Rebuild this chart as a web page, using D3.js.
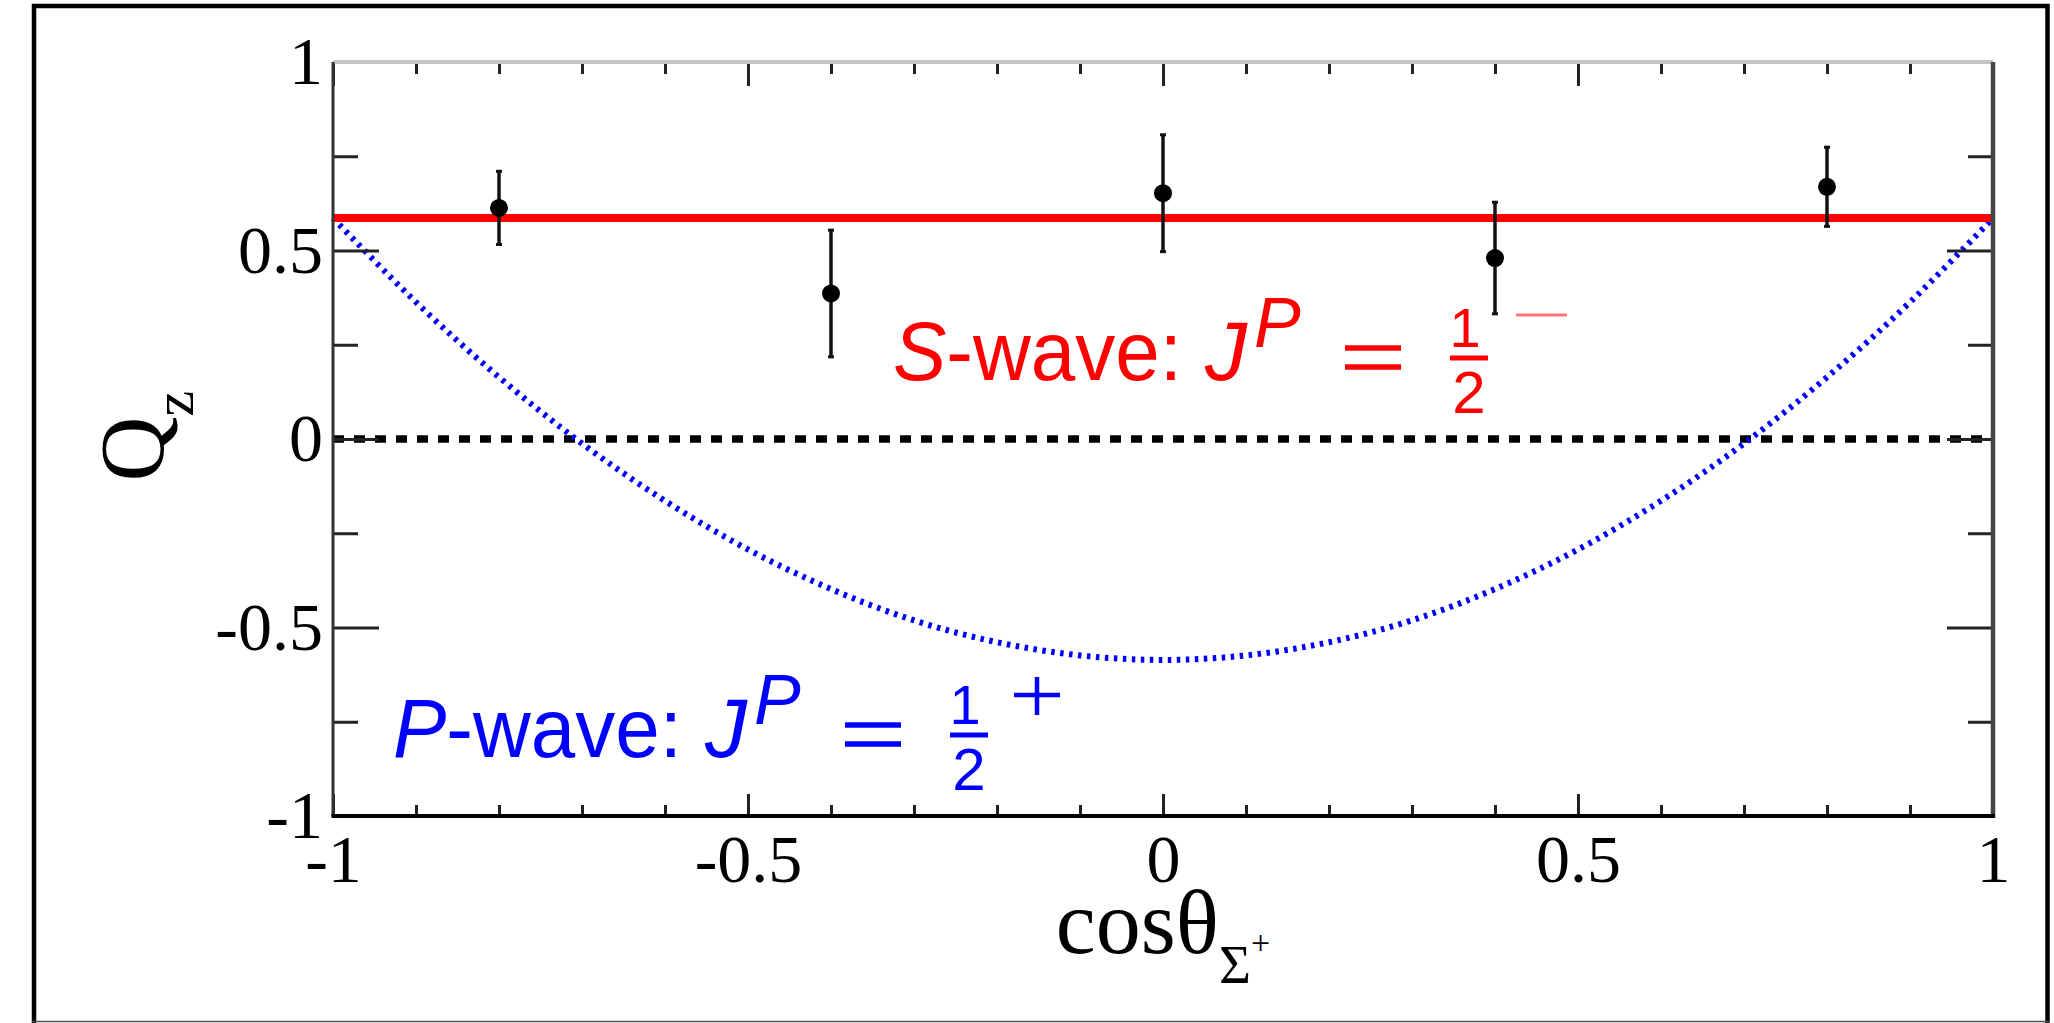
<!DOCTYPE html>
<html>
<head>
<meta charset="utf-8">
<script src="https://cdn.jsdelivr.net/npm/d3@7"></script>
<style>
  html, body { margin: 0; padding: 0; background: #fff; }
  svg { display: block; }
</style>
</head>
<body>
<svg id="chart" width="2054" height="1023"></svg>
<script>
// Measured polarisation Q_z per cos(theta) bin
const cosBins  = [-0.8, -0.4, 0.0, 0.4, 0.8];
const qzValues = [0.613, 0.386, 0.652, 0.480, 0.669];
const qzErrors = [0.097, 0.168, 0.155, 0.148, 0.105];

// S-wave expectation (flat)
const sWaveLevel = 0.586;

// P-wave expectation sampled along cos(theta)
const pWaveCos = [-1.0, -0.9, -0.8, -0.7, -0.6, -0.5, -0.4, -0.3, -0.2, -0.1, 0.0,
                   0.1,  0.2,  0.3,  0.4,  0.5,  0.6,  0.7,  0.8,  0.9,  1.0];
const pWaveQz  = [0.586, 0.363, 0.164, -0.012, -0.164, -0.293, -0.398, -0.481, -0.539, -0.574, -0.586,
                  -0.574, -0.539, -0.481, -0.398, -0.293, -0.164, -0.012, 0.164, 0.363, 0.586];

// Axis ticks
const xMajorTicks = [-1, -0.5, 0, 0.5, 1];
const xMinorTicks = [-0.9, -0.8, -0.7, -0.6, -0.4, -0.3, -0.2, -0.1, 0.1, 0.2, 0.3, 0.4, 0.6, 0.7, 0.8, 0.9];
const xTickLabels = ["-1", "-0.5", "0", "0.5", "1"];
const yMajorTicks = [-1, -0.5, 0, 0.5, 1];
const yMinorTicks = [-0.75, -0.25, 0.25, 0.75];
const yTickLabels = ["-1", "-0.5", "0", "0.5", "1"];

const svg = d3.select("#chart");
const L = 333, R = 1993, T = 62, B = 816;
const x = d3.scaleLinear().domain([-1, 1]).range([L, R]);
const y = d3.scaleLinear().domain([-1, 1]).range([B, T]);

const serif = "'Liberation Serif', 'Times New Roman', serif";
const sans = "'Liberation Sans', Arial, Helvetica, sans-serif";

// outer frame (bottom edge runs off the canvas)
svg.append("rect").attr("x", 34).attr("y", 6).attr("width", 2013.5).attr("height", 1100)
  .attr("fill", "none").attr("stroke", "#000").attr("stroke-width", 4.5);
svg.append("line").attr("x1", 32).attr("x2", 2050).attr("y1", 1021.5).attr("y2", 1021.5)
  .attr("stroke", "#555").attr("stroke-width", 1.5);

// zero reference line
svg.append("line")
  .attr("x1", x(-1)).attr("x2", x(1)).attr("y1", y(0)).attr("y2", y(0))
  .attr("stroke", "#000").attr("stroke-width", 7.5).attr("stroke-dasharray", "11,10");

// P-wave curve
const pData = pWaveCos.map((c, i) => [c, pWaveQz[i]]);
svg.append("path")
  .datum(pData)
  .attr("d", d3.line().x(d => x(d[0])).y(d => y(d[1])).curve(d3.curveNatural))
  .attr("fill", "none").attr("stroke", "#0000ff").attr("stroke-width", 6)
  .attr("stroke-dasharray", "3.5,5.5");

// S-wave line
svg.append("line")
  .attr("x1", x(-1)).attr("x2", x(1)).attr("y1", y(sWaveLevel)).attr("y2", y(sWaveLevel))
  .attr("stroke", "#ff0000").attr("stroke-width", 8);

// axes
function styleAxis(g) {
  g.select(".domain").remove();
  g.selectAll(".tick line").attr("stroke", "#222").attr("stroke-width", 3);
}
svg.append("g").attr("transform", `translate(0,${B})`)
  .call(d3.axisBottom(x).tickValues(xMinorTicks).tickSize(-11).tickFormat(""))
  .call(styleAxis);
const xAx = svg.append("g").attr("transform", `translate(0,${B})`)
  .call(d3.axisBottom(x).tickValues(xMajorTicks).tickSize(-22).tickPadding(18)
    .tickFormat((d, i) => xTickLabels[i]))
  .call(styleAxis);
xAx.selectAll("text").attr("font-family", serif).attr("font-size", 68).attr("fill", "#000");

svg.append("g").attr("transform", `translate(0,${T})`)
  .call(d3.axisTop(x).tickValues(xMinorTicks).tickSize(-12).tickFormat(""))
  .call(styleAxis);
svg.append("g").attr("transform", `translate(0,${T})`)
  .call(d3.axisTop(x).tickValues(xMajorTicks).tickSize(-24).tickFormat(""))
  .call(styleAxis);

svg.append("g").attr("transform", `translate(${L},0)`)
  .call(d3.axisLeft(y).tickValues(yMinorTicks).tickSize(-25).tickFormat(""))
  .call(styleAxis);
const yAx = svg.append("g").attr("transform", `translate(${L},0)`)
  .call(d3.axisLeft(y).tickValues(yMajorTicks).tickSize(-46).tickPadding(10)
    .tickFormat((d, i) => yTickLabels[i]))
  .call(styleAxis);
yAx.selectAll("text").attr("font-family", serif).attr("font-size", 68).attr("fill", "#000");

svg.append("g").attr("transform", `translate(${R},0)`)
  .call(d3.axisRight(y).tickValues(yMinorTicks).tickSize(-25).tickFormat(""))
  .call(styleAxis);
svg.append("g").attr("transform", `translate(${R},0)`)
  .call(d3.axisRight(y).tickValues(yMajorTicks).tickSize(-46).tickFormat(""))
  .call(styleAxis);

// axis lines
svg.append("line").attr("x1", L).attr("x2", R).attr("y1", T).attr("y2", T)
  .attr("stroke", "#c4c4c4").attr("stroke-width", 4);
svg.append("line").attr("x1", L).attr("x2", L).attr("y1", T).attr("y2", B)
  .attr("stroke", "#333").attr("stroke-width", 3);
svg.append("line").attr("x1", R).attr("x2", R).attr("y1", T).attr("y2", B + 2)
  .attr("stroke", "#444").attr("stroke-width", 4.5);
svg.append("line").attr("x1", L - 1.5).attr("x2", R + 2).attr("y1", B).attr("y2", B)
  .attr("stroke", "#000").attr("stroke-width", 4);

// data points with error bars
const pts = cosBins.map((c, i) => ({ c, v: qzValues[i], e: qzErrors[i] }));
const pg = svg.append("g");
pg.selectAll("line.err").data(pts).join("line").attr("class", "err")
  .attr("x1", d => x(d.c)).attr("x2", d => x(d.c))
  .attr("y1", d => y(d.v + d.e)).attr("y2", d => y(d.v - d.e))
  .attr("stroke", "#111").attr("stroke-width", 3.5);
pg.selectAll("line.capTop").data(pts).join("line").attr("class", "capTop")
  .attr("x1", d => x(d.c) - 3).attr("x2", d => x(d.c) + 3)
  .attr("y1", d => y(d.v + d.e)).attr("y2", d => y(d.v + d.e))
  .attr("stroke", "#111").attr("stroke-width", 3);
pg.selectAll("line.capBot").data(pts).join("line").attr("class", "capBot")
  .attr("x1", d => x(d.c) - 3).attr("x2", d => x(d.c) + 3)
  .attr("y1", d => y(d.v - d.e)).attr("y2", d => y(d.v - d.e))
  .attr("stroke", "#111").attr("stroke-width", 3);
pg.selectAll("circle").data(pts).join("circle")
  .attr("cx", d => x(d.c)).attr("cy", d => y(d.v)).attr("r", 9).attr("fill", "#000");

// axis titles
svg.append("text")
  .attr("x", x(0)).attr("y", 953).attr("text-anchor", "middle")
  .attr("font-family", serif).attr("font-size", 90).attr("fill", "#000")
  .call(t => {
    t.append("tspan").text("cos\u03B8");
    t.append("tspan").attr("font-size", 55).attr("dy", 30).text("\u03A3");
    t.append("tspan").attr("font-size", 34).attr("dy", -29).text("+");
  });

svg.append("text")
  .attr("transform", "translate(163,436) rotate(-90)")
  .attr("text-anchor", "middle")
  .attr("font-family", serif).attr("font-size", 90).attr("fill", "#000")
  .call(t => {
    t.append("tspan").text("Q");
    t.append("tspan").attr("font-size", 58).attr("dy", 30).text("z");
  });

// J^P annotations: "<L>-wave: J^P = 1/2^(sign)"
function waveLabel(x0, y0, letter, color, sign) {
  const g = svg.append("g").attr("transform", `translate(${x0},${y0})`)
    .attr("fill", color).attr("font-family", sans);
  g.append("text").attr("x", -4).attr("y", 0).attr("font-size", 84)
    .attr("textLength", 289).attr("lengthAdjust", "spacingAndGlyphs")
    .call(t => {
      t.append("tspan").attr("font-style", "italic").text(letter);
      t.append("tspan").text("-wave:");
    });
  g.append("text").attr("x", 308).attr("y", 0).attr("font-size", 84)
    .attr("font-style", "italic").text("J");
  g.append("text").attr("x", 357).attr("y", -33).attr("font-size", 70)
    .attr("font-style", "italic").text("P");
  // equals sign
  [-32, -13].forEach(dy => g.append("line")
    .attr("x1", 448).attr("x2", 504).attr("y1", dy).attr("y2", dy)
    .attr("stroke", color).attr("stroke-width", 5.5));
  // one half
  g.append("line").attr("x1", 553).attr("x2", 591).attr("y1", -22).attr("y2", -22)
    .attr("stroke", color).attr("stroke-width", 5);
  g.append("text").attr("x", 568).attr("y", -33).attr("text-anchor", "middle")
    .attr("font-size", 56).text("1");
  g.append("text").attr("x", 572).attr("y", 33).attr("text-anchor", "middle")
    .attr("font-size", 60).text("2");
  // parity superscript
  if (sign === "-") {
    g.append("line").attr("x1", 619).attr("x2", 670).attr("y1", -65).attr("y2", -65)
      .attr("stroke", color).attr("stroke-width", 3).attr("stroke-opacity", 0.55);
  } else {
    g.append("line").attr("x1", 617).attr("x2", 663).attr("y1", -62).attr("y2", -62)
      .attr("stroke", color).attr("stroke-width", 4.5);
    g.append("line").attr("x1", 640).attr("x2", 640).attr("y1", -80).attr("y2", -42)
      .attr("stroke", color).attr("stroke-width", 4.5);
  }
}
waveLabel(897, 380, "S", "#ff0000", "-");
waveLabel(397, 757, "P", "#0000ff", "+");
</script>
</body>
</html>
